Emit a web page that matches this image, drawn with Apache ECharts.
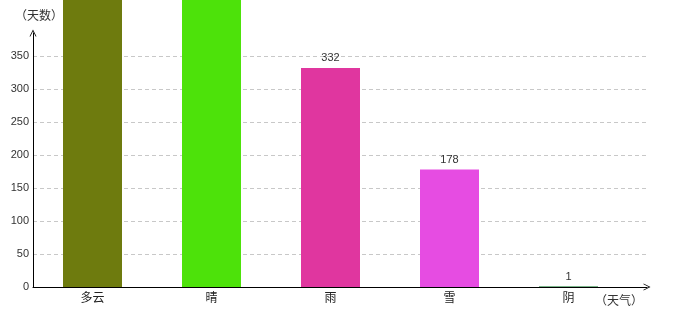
<!DOCTYPE html>
<html><head><meta charset="utf-8">
<script src="https://cdn.jsdelivr.net/npm/echarts@6/dist/echarts.min.js"></script>
<style>html,body{margin:0;padding:0;background:#fff}#c{width:680px;height:320px}</style>
</head><body><div id="c"></div>
<script>
const categories = ['多云', '晴', '雨', '雪', '阴'];
const days = [500, 470, 332, 178, 1];
const barColors = ['#6e7b0e', '#4de20a', '#e0369f', '#e64ce2', '#4f9e63'];
const yMin = 0, yMax = 385, yInterval = 50;

const arrow = 'path://M0,10 L5,0 L10,10 L8.8,10 L5,2.4 L1.2,10 Z';
const chart = echarts.init(document.getElementById('c'));
const cjk = '"Noto Sans CJK SC", sans-serif';
chart.setOption({
  animation: false,
  grid: [
    {left: 33, right: 33, top: 33, bottom: 33, outerBoundsMode: 'none', containLabel: false},
    {left: 33, right: 52, top: 33, bottom: 33, outerBoundsMode: 'none', containLabel: false}
  ],
  xAxis: [
    {gridIndex: 0, type: 'value', min: 0, max: 1, axisLabel: {show: false}, splitLine: {show: false}, axisTick: {show: false},
     axisLine: {show: true, lineStyle: {color: '#000', width: 1}, symbol: ['none', arrow], symbolSize: [8, 7], symbolOffset: [0, 0]},
     name: '（天气）', nameLocation: 'end', nameGap: -4,
     nameTextStyle: {fontFamily: cjk, fontSize: 12, color: '#333', align: 'right', verticalAlign: 'top', padding: [7, 0, 0, 0]}},
    {gridIndex: 1, type: 'category', data: categories, boundaryGap: true,
     axisLine: {show: false}, axisTick: {show: false},
     axisLabel: {margin: 4, fontFamily: cjk, fontSize: 12, color: '#222'}}
  ],
  yAxis: [
    {gridIndex: 0, type: 'value', min: yMin, max: yMax, interval: yInterval,
     axisLine: {show: true, lineStyle: {color: '#000', width: 1}, symbol: ['none', arrow], symbolSize: [8, 7]},
     axisTick: {show: false},
     axisLabel: {showMaxLabel: false, margin: 4, fontFamily: '"Liberation Sans", Arial, sans-serif', fontSize: 11, color: '#333'},
     splitLine: {show: true, showMaxLine: false, lineStyle: {color: '#c8c8c8', type: [4, 3], width: 1}},
     name: '（天数）', nameLocation: 'end', nameGap: 12,
     nameTextStyle: {fontFamily: cjk, fontSize: 12, color: '#333', padding: [0, 0, 0, 12]}},
    {gridIndex: 1, type: 'value', min: yMin, max: yMax, show: false, splitLine: {show: false}}
  ],
  series: [{
    type: 'bar', xAxisIndex: 1, yAxisIndex: 1, clip: false,
    barWidth: 59,
    data: days.map((v, i) => ({value: v, itemStyle: {color: barColors[i]}})),
    label: {show: true, position: 'top', distance: 4, fontFamily: '"Liberation Sans", Arial, sans-serif', fontSize: 11, color: '#333'}
  }]
});
</script></body></html>
